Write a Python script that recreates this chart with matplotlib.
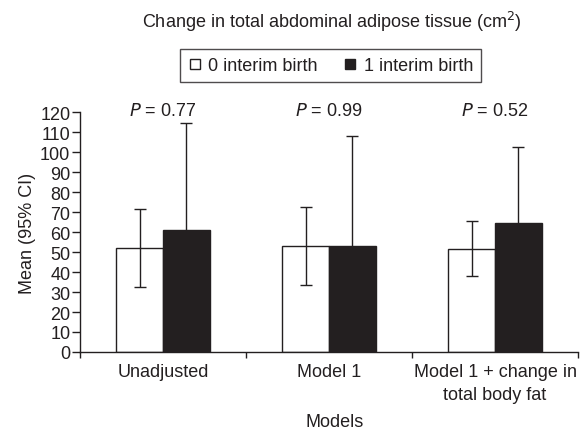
import matplotlib
matplotlib.use('Agg')
import matplotlib.pyplot as plt
from matplotlib.lines import Line2D
import numpy as np

plt.rcParams['font.family'] = ['Liberation Sans', 'DejaVu Sans']

# Data
models = ['Unadjusted', 'Model 1', 'Model 1 + change in\ntotal body fat']
p_values = ['0.77', '0.99', '0.52']
series = ['0 interim birth', '1 interim birth']
mean_0 = [52.2, 53.0, 51.3]
lo_0 = [32.7, 33.3, 38.0]
hi_0 = [71.7, 72.5, 65.3]
mean_1 = [60.8, 53.0, 64.7]
lo_1 = [36.0, 30.0, 40.0]
hi_1 = [114.5, 108.0, 102.7]

dark = '#231f20'
fs = 13

fig = plt.figure(figsize=(5.83, 4.31), dpi=100)
ax = fig.add_axes([80 / 583, (431 - 353) / 431, 498 / 583, 240 / 431])

x = np.arange(len(models))
w = 0.282

m0 = np.array(mean_0)
m1 = np.array(mean_1)
ax.bar(x - w / 2, m0, w, color='white', edgecolor=dark, linewidth=1.0, zorder=2)
ax.bar(x + w / 2, m1, w, color=dark, edgecolor=dark, linewidth=1.0, zorder=2)
ax.errorbar(x - w / 2, m0, yerr=[m0 - np.array(lo_0), np.array(hi_0) - m0],
            fmt='none', ecolor=dark, elinewidth=1.0, capsize=4.3, capthick=1.0, zorder=3)
ax.errorbar(x + w / 2, m1, yerr=[m1 - np.array(lo_1), np.array(hi_1) - m1],
            fmt='none', ecolor=dark, elinewidth=1.0, capsize=4.3, capthick=1.0, zorder=1)

for xi, p in zip(x, p_values):
    ax.text(xi, 120.5, '$\\it{P}$ = ' + p, ha='center', va='center', fontsize=fs,
            color=dark)

ax.set_xlim(-0.5, len(models) - 0.5)
ax.set_ylim(0, 120)
ax.set_yticks(np.arange(0, 121, 10))
ax.set_xticks(np.arange(len(models) + 1) - 0.5)
ax.set_xticklabels([])
ax.set_xticks(x, minor=True)
ax.set_xticklabels(models, minor=True, fontsize=fs, color=dark, linespacing=1.45)
ax.tick_params(axis='x', which='minor', length=0, pad=8)
ax.tick_params(axis='x', which='major', length=4, width=1, color=dark, direction='out')
ax.tick_params(axis='y', length=6, width=1, color=dark, labelsize=fs, pad=1,
               labelcolor=dark)
for s in ['top', 'right']:
    ax.spines[s].set_visible(False)
for s in ['left', 'bottom']:
    ax.spines[s].set_color(dark)
    ax.spines[s].set_linewidth(1.0)

ax.set_ylabel('Mean (95% CI)', fontsize=fs, color=dark, labelpad=3)
fig.text(335 / 583, 1 - 423 / 431, 'Models', ha='center', va='center',
         fontsize=fs, color=dark)
fig.text(332 / 583, 1 - 22 / 431,
         'Change in total abdominal adipose tissue (cm$^2$)',
         ha='center', va='center', fontsize=fs, color=dark)

handles = [Line2D([], [], marker='s', linestyle='none', markersize=7.5,
                  markerfacecolor='white', markeredgecolor=dark, markeredgewidth=1),
           Line2D([], [], marker='s', linestyle='none', markersize=7.5,
                  markerfacecolor=dark, markeredgecolor=dark)]
leg = fig.legend(handles, series, loc='center', bbox_to_anchor=(330.5 / 583, 1 - 66.5 / 431),
                 ncol=2, frameon=True, fancybox=False, fontsize=fs,
                 handlelength=0.8, handletextpad=0.35, columnspacing=1.4,
                 borderpad=0.45, borderaxespad=0, edgecolor=dark)
leg.get_frame().set_linewidth(1.0)
for t in leg.get_texts():
    t.set_color(dark)

fig.savefig('out.png', dpi=100)
